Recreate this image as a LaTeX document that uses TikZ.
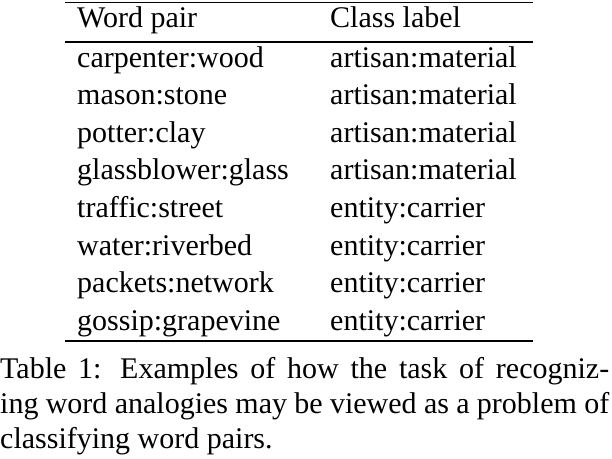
\documentclass[tikz,border=0pt]{standalone}
\usepackage{fontspec}
\setmainfont{Liberation Serif}
\begin{document}
\begin{tikzpicture}[x=1pt,y=-1pt,
  cell/.style={anchor=base west,inner sep=0pt,font=\fontsize{30}{36}\selectfont},
  rulel/.style={line width=1.6pt}]
\useasboundingbox (0,0) rectangle (612,458);
\draw[rulel] (65,2.5) -- (533,2.5);
\draw[rulel] (65,42) -- (533,42);
\draw[rulel] (65,341) -- (533,341);
\node[cell] (h1) at (77,27) {Word pair};
\node[cell] (h2) at (330,27) {Class label};
\foreach \a/\b [count=\i from 0] in {carpenter:wood/artisan:material,mason:stone/artisan:material,potter:clay/artisan:material,glassblower:glass/artisan:material,traffic:street/entity:carrier,water:riverbed/entity:carrier,packets:network/entity:carrier,gossip:grapevine/entity:carrier}{
  \node[cell] (l\i) at (77,67+37.6*\i) {\a};
  \node[cell] (r\i) at (330,67+37.6*\i) {\b};
}
\node[anchor=north west,inner sep=0pt,text width=609pt,align=justify,font=\fontsize{30}{35}\selectfont] (cap) at (0,357)
 {Table 1: Examples of how the task of recogniz-\linebreak ing word analogies may be viewed as a problem of\linebreak classifying word pairs.};
\end{tikzpicture}
\end{document}
